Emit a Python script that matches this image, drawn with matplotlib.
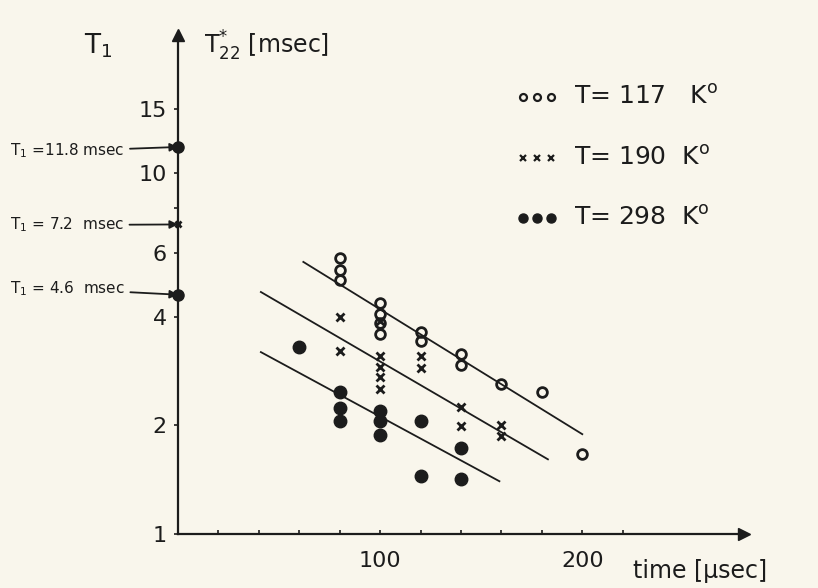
import matplotlib
matplotlib.use("Agg")
import matplotlib.pyplot as plt

# T = 117 K  (open circles)
x_117 = [80, 80, 80, 100, 100, 100, 100, 120, 120, 140, 140, 160, 180, 200]
y_117 = [5.8, 5.4, 5.05, 4.35, 4.07, 3.84, 3.58, 3.63, 3.42, 3.15, 2.94, 2.60, 2.47, 1.67]

# T = 190 K  (crosses)
x_190 = [80, 80, 100, 100, 100, 100, 100, 120, 120, 140, 140, 160, 160]
y_190 = [3.99, 3.21, 3.88, 3.11, 2.90, 2.72, 2.52, 3.11, 2.88, 2.25, 1.99, 2.0, 1.87]

# T = 298 K  (filled dots)
x_298 = [60, 80, 80, 80, 100, 100, 100, 120, 120, 140, 140]
y_298 = [3.30, 2.47, 2.23, 2.06, 2.19, 2.06, 1.88, 2.06, 1.45, 1.73, 1.42]

# fitted lines (start/end)
fit_x = [[62, 200], [41, 183], [41, 159]]
fit_y = [[5.67, 1.89], [4.68, 1.61], [3.19, 1.40]]

# T1 values marked on the axis
t1_values = [11.8, 7.2, 4.6]
t1_markers = ["o", "x", "o"]
t1_labels = ["T$_1$ =11.8 msec", "T$_1$ = 7.2  msec", "T$_1$ = 4.6  msec"]

legend_labels = ["T= 117   K$^{\\mathrm{o}}$", "T= 190  K$^{\\mathrm{o}}$", "T= 298  K$^{\\mathrm{o}}$"]

y_ticks = [1, 2, 4, 6, 8, 10, 15]
y_ticklabels = ["1", "2", "4", "6", "", "10", "15"]
x_ticks = [20, 40, 60, 80, 100, 120, 140, 160, 180, 200, 220]
x_ticklabels = ["", "", "", "", "100", "", "", "", "", "200", ""]

ink = "#1c1c1c"
paper = "#f9f6ec"

W, H = 818, 588
fig = plt.figure(figsize=(W / 100, H / 100), dpi=100, facecolor=paper)
ax = fig.add_axes([178 / W, 54 / H, 566 / W, 499 / H])
ax.set_facecolor(paper)
ax.set_yscale("log")
ax.set_xlim(0, 280)
ax.set_ylim(1, 24.1)

for sp in ["top", "right"]:
    ax.spines[sp].set_visible(False)
for sp in ["left", "bottom"]:
    ax.spines[sp].set_linewidth(1.6)
    ax.spines[sp].set_color(ink)

# arrow heads on axes
ax.plot(1, 0, ">", color=ink, ms=8, transform=ax.transAxes, clip_on=False)
ax.plot(0, 1, "^", color=ink, ms=8, transform=ax.transAxes, clip_on=False)

ax.set_yticks(y_ticks)
ax.set_yticklabels(y_ticklabels)
ax.yaxis.set_minor_locator(matplotlib.ticker.NullLocator())
ax.set_xticks(x_ticks)
ax.set_xticklabels(x_ticklabels)
ax.tick_params(axis="y", direction="out", length=3, width=1.2, pad=5,
               labelsize=16, colors=ink)
ax.tick_params(axis="x", direction="in", length=3, width=1.2, pad=12,
               labelsize=16, colors=ink)

# fitted lines
for xs, ys in zip(fit_x, fit_y):
    ax.plot(xs, ys, color=ink, lw=1.3)

# data points
ax.plot(x_117, y_117, "o", mfc="none", mec=ink, mew=2, ms=7, ls="none")
ax.plot(x_190, y_190, "x", color=ink, mew=2, ms=5.5, ls="none")
ax.plot(x_298, y_298, "o", color=ink, ms=9, ls="none")

# T1 markers on the axis with annotations
text_y = [151, 225, 289]
for val, mk, lab, ty in zip(t1_values, t1_markers, t1_labels, text_y):
    if mk == "o":
        ax.plot(0, val, "o", color=ink, ms=8, clip_on=False)
    else:
        ax.plot(0, val, "x", color=ink, mew=2, ms=5, clip_on=False)
    ax.annotate(lab, xy=(0, val), xycoords="data",
                xytext=(10 / W, 1 - ty / H), textcoords="figure fraction",
                ha="left", va="center", fontsize=11, color=ink,
                arrowprops=dict(arrowstyle="-|>", color=ink, lw=1.3,
                                mutation_scale=12, shrinkA=2, shrinkB=0))

# legend drawn by hand
leg_y = [0.876, 0.754, 0.633]
leg_styles = [dict(marker="o", mfc="none", mec=ink, mew=1.6, ms=5),
              dict(marker="x", color=ink, mew=1.6, ms=4),
              dict(marker="o", color=ink, ms=6.5)]
for ly, lab, st in zip(leg_y, legend_labels, leg_styles):
    ax.plot([0.610, 0.635, 0.659], [ly] * 3, ls="none",
            transform=ax.transAxes, clip_on=False, **st)
    ax.text(0.700, ly, lab, transform=ax.transAxes, ha="left", va="center",
            fontsize=18, color=ink)

# axis titles
fig.text(84 / W, 1 - 46 / H, "T$_\\mathregular{1}$", fontsize=19,
         color=ink, ha="left", va="center")
fig.text(204 / W, 1 - 46 / H, "T$^{*}_{\\mathregular{22}}$ [msec]",
         fontsize=17, color=ink, ha="left", va="center")
fig.text(633 / W, 1 - 571 / H, "time [\u03bcsec]", fontsize=17, color=ink,
         ha="left", va="center")

fig.savefig("out.png", dpi=100, facecolor=paper)
